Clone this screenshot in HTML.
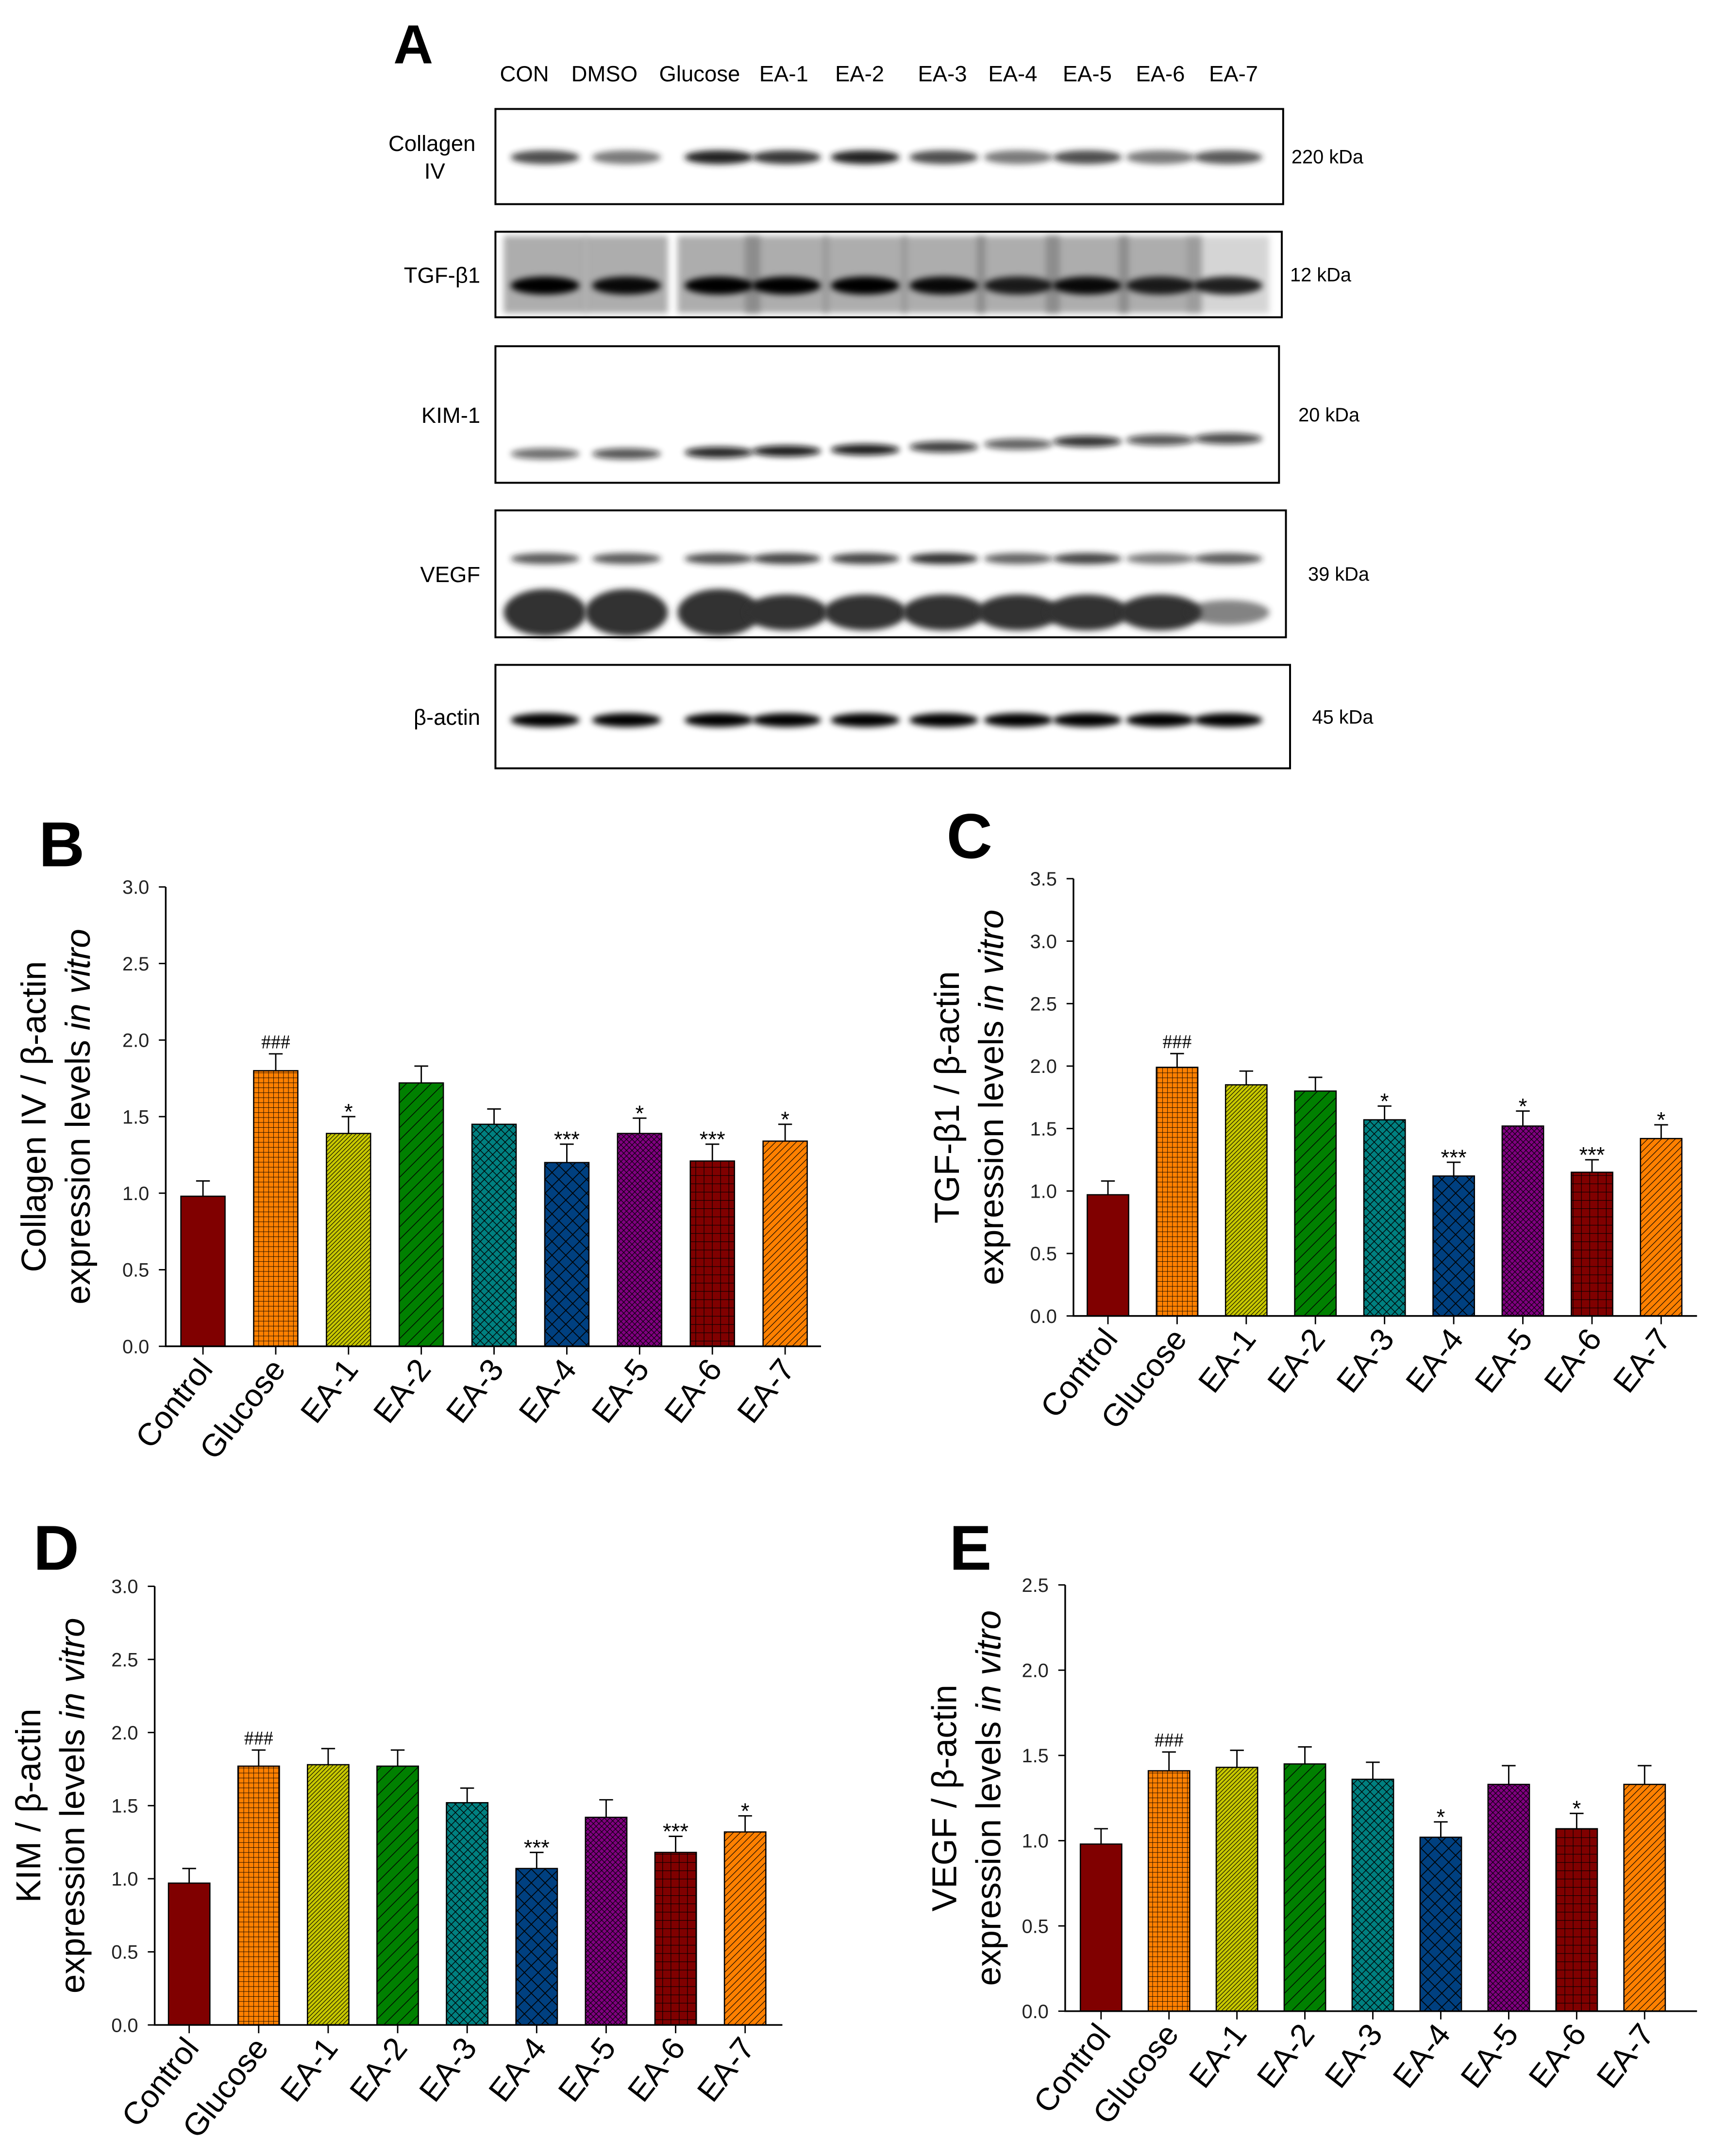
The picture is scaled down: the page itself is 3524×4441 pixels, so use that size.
<!DOCTYPE html>
<html><head><meta charset="utf-8">
<style>
html,body{margin:0;padding:0;background:#fff;}
svg{display:block;font-family:"Liberation Sans",Arial,sans-serif;}
</style></head>
<body>
<svg id="fig" width="3524" height="4441" viewBox="0 0 1240 1563" xmlns="http://www.w3.org/2000/svg">
<defs>
<filter id="blur" x="-50%" y="-200%" width="200%" height="500%"><feGaussianBlur stdDeviation="2.2"/></filter>
<filter id="blur2" x="-50%" y="-100%" width="200%" height="300%"><feGaussianBlur stdDeviation="5"/></filter>
<pattern id="p-grid" width="3.6" height="3.6" patternUnits="userSpaceOnUse"><rect width="3.6" height="3.6" fill="#ff8000"/><path d="M0 0H3.6M0 0V3.6" stroke="#000" stroke-width="0.6"/></pattern>
<pattern id="p-ea1" width="3" height="3" patternUnits="userSpaceOnUse"><rect width="3" height="3" fill="#c8c800"/><path d="M0 3L3 0M-1 1L1 -1M2 4L4 2" stroke="#000" stroke-width="0.4"/></pattern>
<pattern id="p-ea2" width="9" height="9" patternUnits="userSpaceOnUse"><rect width="9" height="9" fill="#008000"/><path d="M0 9L9 0M-1 1L1 -1M8 10L10 8" stroke="#000" stroke-width="0.5"/></pattern>
<pattern id="p-ea3" width="6" height="6" patternUnits="userSpaceOnUse"><rect width="6" height="6" fill="#008080"/><path d="M0 6L6 0M0 0L6 6" stroke="#000" stroke-width="0.5"/></pattern>
<pattern id="p-ea4" width="10" height="10" patternUnits="userSpaceOnUse"><rect width="10" height="10" fill="#004080"/><path d="M0 10L10 0M0 0L10 10" stroke="#000" stroke-width="0.6"/></pattern>
<pattern id="p-ea5" width="4" height="4" patternUnits="userSpaceOnUse"><rect width="4" height="4" fill="#800080"/><path d="M0 4L4 0M0 0L4 4" stroke="#000" stroke-width="0.4"/></pattern>
<pattern id="p-ea6" width="6" height="6" patternUnits="userSpaceOnUse"><rect width="6" height="6" fill="#800000"/><path d="M0 0H6M0 0V6" stroke="#000" stroke-width="0.8"/></pattern>
<pattern id="p-ea7" width="5" height="5" patternUnits="userSpaceOnUse"><rect width="5" height="5" fill="#ff8000"/><path d="M0 5L5 0M-1 1L1 -1M4 6L6 4" stroke="#000" stroke-width="0.4"/></pattern>
</defs>
<g id="blot"></g>
<g id="charts"></g>
</svg>
<script>
// ---- chart data ----
const categories = ["Control","Glucose","EA-1","EA-2","EA-3","EA-4","EA-5","EA-6","EA-7"];
const collagenValues = [0.98,1.80,1.39,1.72,1.45,1.20,1.39,1.21,1.34];
const collagenErrors = [0.10,0.11,0.11,0.11,0.10,0.12,0.10,0.11,0.11];
const collagenMarks = ["","###","*","","","***","*","***","*"];
const tgfValues = [0.97,1.99,1.85,1.80,1.57,1.12,1.52,1.15,1.42];
const tgfErrors = [0.11,0.11,0.11,0.11,0.11,0.11,0.12,0.10,0.11];
const tgfMarks = ["","###","","","*","***","*","***","*"];
const kimValues = [0.97,1.77,1.78,1.77,1.52,1.07,1.42,1.18,1.32];
const kimErrors = [0.10,0.11,0.11,0.11,0.10,0.11,0.12,0.11,0.11];
const kimMarks = ["","###","","","","***","","***","*"];
const vegfValues = [0.98,1.41,1.43,1.45,1.36,1.02,1.33,1.07,1.33];
const vegfErrors = [0.09,0.11,0.10,0.10,0.10,0.09,0.11,0.09,0.11];
const vegfMarks = ["","###","","","","*","","*",""];
const tickB = ["0.0","0.5","1.0","1.5","2.0","2.5","3.0"];
const tickC = ["0.0","0.5","1.0","1.5","2.0","2.5","3.0","3.5"];
const tickE = ["0.0","0.5","1.0","1.5","2.0","2.5"];
const lanes = ["CON","DMSO","Glucose","EA-1","EA-2","EA-3","EA-4","EA-5","EA-6","EA-7"];

const NS="http://www.w3.org/2000/svg";
const fills=["#800000","url(#p-grid)","url(#p-ea1)","url(#p-ea2)","url(#p-ea3)","url(#p-ea4)","url(#p-ea5)","url(#p-ea6)","url(#p-ea7)"];
function mk(tag,attrs,parent,text){const e=document.createElementNS(NS,tag);for(const k in attrs)e.setAttribute(k,attrs[k]);if(text!==undefined)e.textContent=text;parent.appendChild(e);return e;}

function chart(cfg){
  const g=mk("g",{},document.getElementById("charts"));
  
  
  const maxV=parseFloat(cfg.ticks[cfg.ticks.length-1]);
  const y=v=>cfg.y0-(cfg.y0-cfg.yTop)*v/maxV;
  const step=(cfg.cLast-cfg.cFirst)/(categories.length-1);
  const xc=i=>cfg.cFirst+i*step;
  const bw=cfg.bw;
  const L=mk("text",{x:cfg.lx,y:cfg.ly,"font-size":46,"font-weight":"bold"},g,cfg.letter);
  
  
  categories.forEach((c,i)=>{
    const vals=cfg.values, top=y(vals[i]);
    const r=mk("rect",{x:xc(i)-bw/2,y:top,width:bw,height:cfg.y0-top,fill:fills[i],stroke:"#000","stroke-width":0.9},g);
    
    
    const et=y(vals[i]+cfg.errors[i]);
    const eb=mk("path",{d:`M${xc(i)} ${top}V${et}M${xc(i)-5} ${et}H${xc(i)+5}`,stroke:"#000","stroke-width":1,fill:"none"},g);
    
    
    if(cfg.marks[i]){
      const isHash=cfg.marks[i][0]==="#";
      const m=mk("text",{x:xc(i),y:et-(isHash?4:-2),"text-anchor":"middle","font-size":isHash?14:16,"font-family":isHash?"Liberation Serif, serif":"Liberation Sans, sans-serif"},g,cfg.marks[i]);
      
      
    }
    mk("path",{d:`M${xc(i)} ${cfg.y0}v6`,stroke:"#000","stroke-width":1},g);
    const lbl=mk("text",{x:0,y:0,"font-size":23,"text-anchor":"end",transform:`translate(${xc(i)+8},${cfg.y0+17}) rotate(-52)`},g,c);
    
    
  });
  const ax=mk("path",{d:`M${cfg.x0} ${cfg.yTop}V${cfg.y0}H${cfg.xEnd}`,stroke:"#000","stroke-width":1.2,fill:"none"},g);
  
  
  cfg.ticks.forEach(tk=>{
    const v=parseFloat(tk);
    mk("path",{d:`M${cfg.x0-5} ${y(v)}H${cfg.x0}`,stroke:"#000","stroke-width":1},g);
    const tl=mk("text",{x:cfg.x0-12,y:y(v)+5,"font-size":14,"text-anchor":"end",fill:"#222"},g,tk);
    
    
  });
  const midY=(cfg.y0+cfg.yTop)/2;
  const t1=mk("text",{transform:`translate(${cfg.tx},${midY}) rotate(-90)`,"text-anchor":"middle","font-size":25},g,cfg.title1);
  
  
  const t2=mk("text",{transform:`translate(${cfg.tx+32},${midY}) rotate(-90)`,"text-anchor":"middle","font-size":25},g);
  
  
  mk("tspan",{},t2,"expression levels ");
  mk("tspan",{"font-style":"italic"},t2,"in vitro");
}

chart({name:"chart-collagen-iv",letter:"B",lx:28,ly:628,x0:120,xEnd:595,y0:976,yTop:643,cFirst:147,cLast:569,bw:32,ticks:tickB,values:collagenValues,errors:collagenErrors,marks:collagenMarks,title1:"Collagen IV / β-actin",tx:33});
chart({name:"chart-tgf-b1",letter:"C",lx:686,ly:622,x0:778,xEnd:1230,y0:954,yTop:637,cFirst:803,cLast:1204,bw:30,ticks:tickC,values:tgfValues,errors:tgfErrors,marks:tgfMarks,title1:"TGF-β1 / β-actin",tx:695});
chart({name:"chart-kim-1",letter:"D",lx:24,ly:1138,x0:112,xEnd:567,y0:1468,yTop:1150,cFirst:137,cLast:540,bw:30,ticks:tickB,values:kimValues,errors:kimErrors,marks:kimMarks,title1:"KIM / β-actin",tx:29});
chart({name:"chart-vegf",letter:"E",lx:688,ly:1138,x0:772,xEnd:1230,y0:1458,yTop:1149,cFirst:798,cLast:1192,bw:30,ticks:tickE,values:vegfValues,errors:vegfErrors,marks:vegfMarks,title1:"VEGF / β-actin",tx:693});

// ---- western blot ----
(function(){
  const b=document.getElementById("blot");
  const A=mk("text",{x:285,y:46,"font-size":40,"font-weight":"bold"},b,"A");
  
  
  const hx=[380,438,507,568,623,683,734,788,841,894];
  const bx=[395,454,521,570,627,684,738,788,841,890];
  lanes.forEach((l,i)=>{
    const t=mk("text",{x:hx[i],y:59,"font-size":16,"text-anchor":"middle"},b,l);
    
    
  });
  const rows=[
    {name:"collagen-iv",lab:["Collagen","IV"],kda:"220 kDa",x2:930,y1:79,y2:148,by:114,bh:8,col:"#222",op:[0.8,0.6,1,0.9,1,0.8,0.6,0.8,0.6,0.75]},
    {name:"tgf-b1",lab:["TGF-β1"],kda:"12 kDa",x2:929,y1:168,y2:230,by:207,bh:11,col:"#000",op:[1,0.95,1,1,1,0.95,0.85,0.95,0.85,0.85],bg:true},
    {name:"kim-1",lab:["KIM-1"],kda:"20 kDa",x2:927,y1:251,y2:350,by:329,bh:6,col:"#111",op:[0.6,0.7,0.9,0.95,0.95,0.8,0.65,0.85,0.7,0.75],dy:[0,0,-1,-2,-3,-5,-7,-9,-10,-11]},
    {name:"vegf",lab:["VEGF"],kda:"39 kDa",x2:932,y1:370,y2:462,by:405,bh:6,col:"#222",op:[0.75,0.75,0.8,0.85,0.85,0.95,0.7,0.85,0.6,0.75],big:true},
    {name:"beta-actin",lab:["β-actin"],kda:"45 kDa",x2:935,y1:482,y2:557,by:522,bh:8,col:"#000",op:[1,1,1,1,1,1,1,1,1,1]}
  ];
  rows.forEach(r=>{
    const g=mk("g",{},b);
    
    
    if(r.bg) bx.forEach((x,i)=>mk("rect",{x:x-30,y:r.y1+3,width:60,height:r.y2-r.y1-6,fill:"#777",opacity:i===9?0.3:0.6,filter:"url(#blur)"},g));
    if(r.big) bx.forEach((x,i)=>mk("ellipse",{cx:x,cy:444,rx:30,ry:i<3?17:(i===9?9:13),fill:"#333",opacity:i===9?0.6:1,filter:"url(#blur)"},g));
    bx.forEach((x,i)=>{
      const e=mk("ellipse",{cx:x,cy:r.by+(r.dy?r.dy[i]:0),rx:25,ry:r.bh/2+1,fill:r.col,opacity:r.op[i],filter:"url(#blur)"},g);
      
      
    });
    mk("rect",{x:359,y:r.y1,width:r.x2-359,height:r.y2-r.y1,fill:"none",stroke:"#000","stroke-width":1.4},g);
    const my=(r.y1+r.y2)/2;
    r.lab.forEach((t,j)=>{
      const lt=mk("text",{x:r.lab.length>1?(j?315:313):348,y:my+6+(r.lab.length>1?(j?10:-10):0),"font-size":16,"text-anchor":r.lab.length>1?"middle":"end"},g,t);
      
      
    });
    const k=mk("text",{x:r.x2+6+(r.name==="kim-1"?8:0)+(r.name==="vegf"||r.name==="beta-actin"?10:0),y:my+5,"font-size":14},g,r.kda);
    
    
  });
})();
</script>
</body></html>
